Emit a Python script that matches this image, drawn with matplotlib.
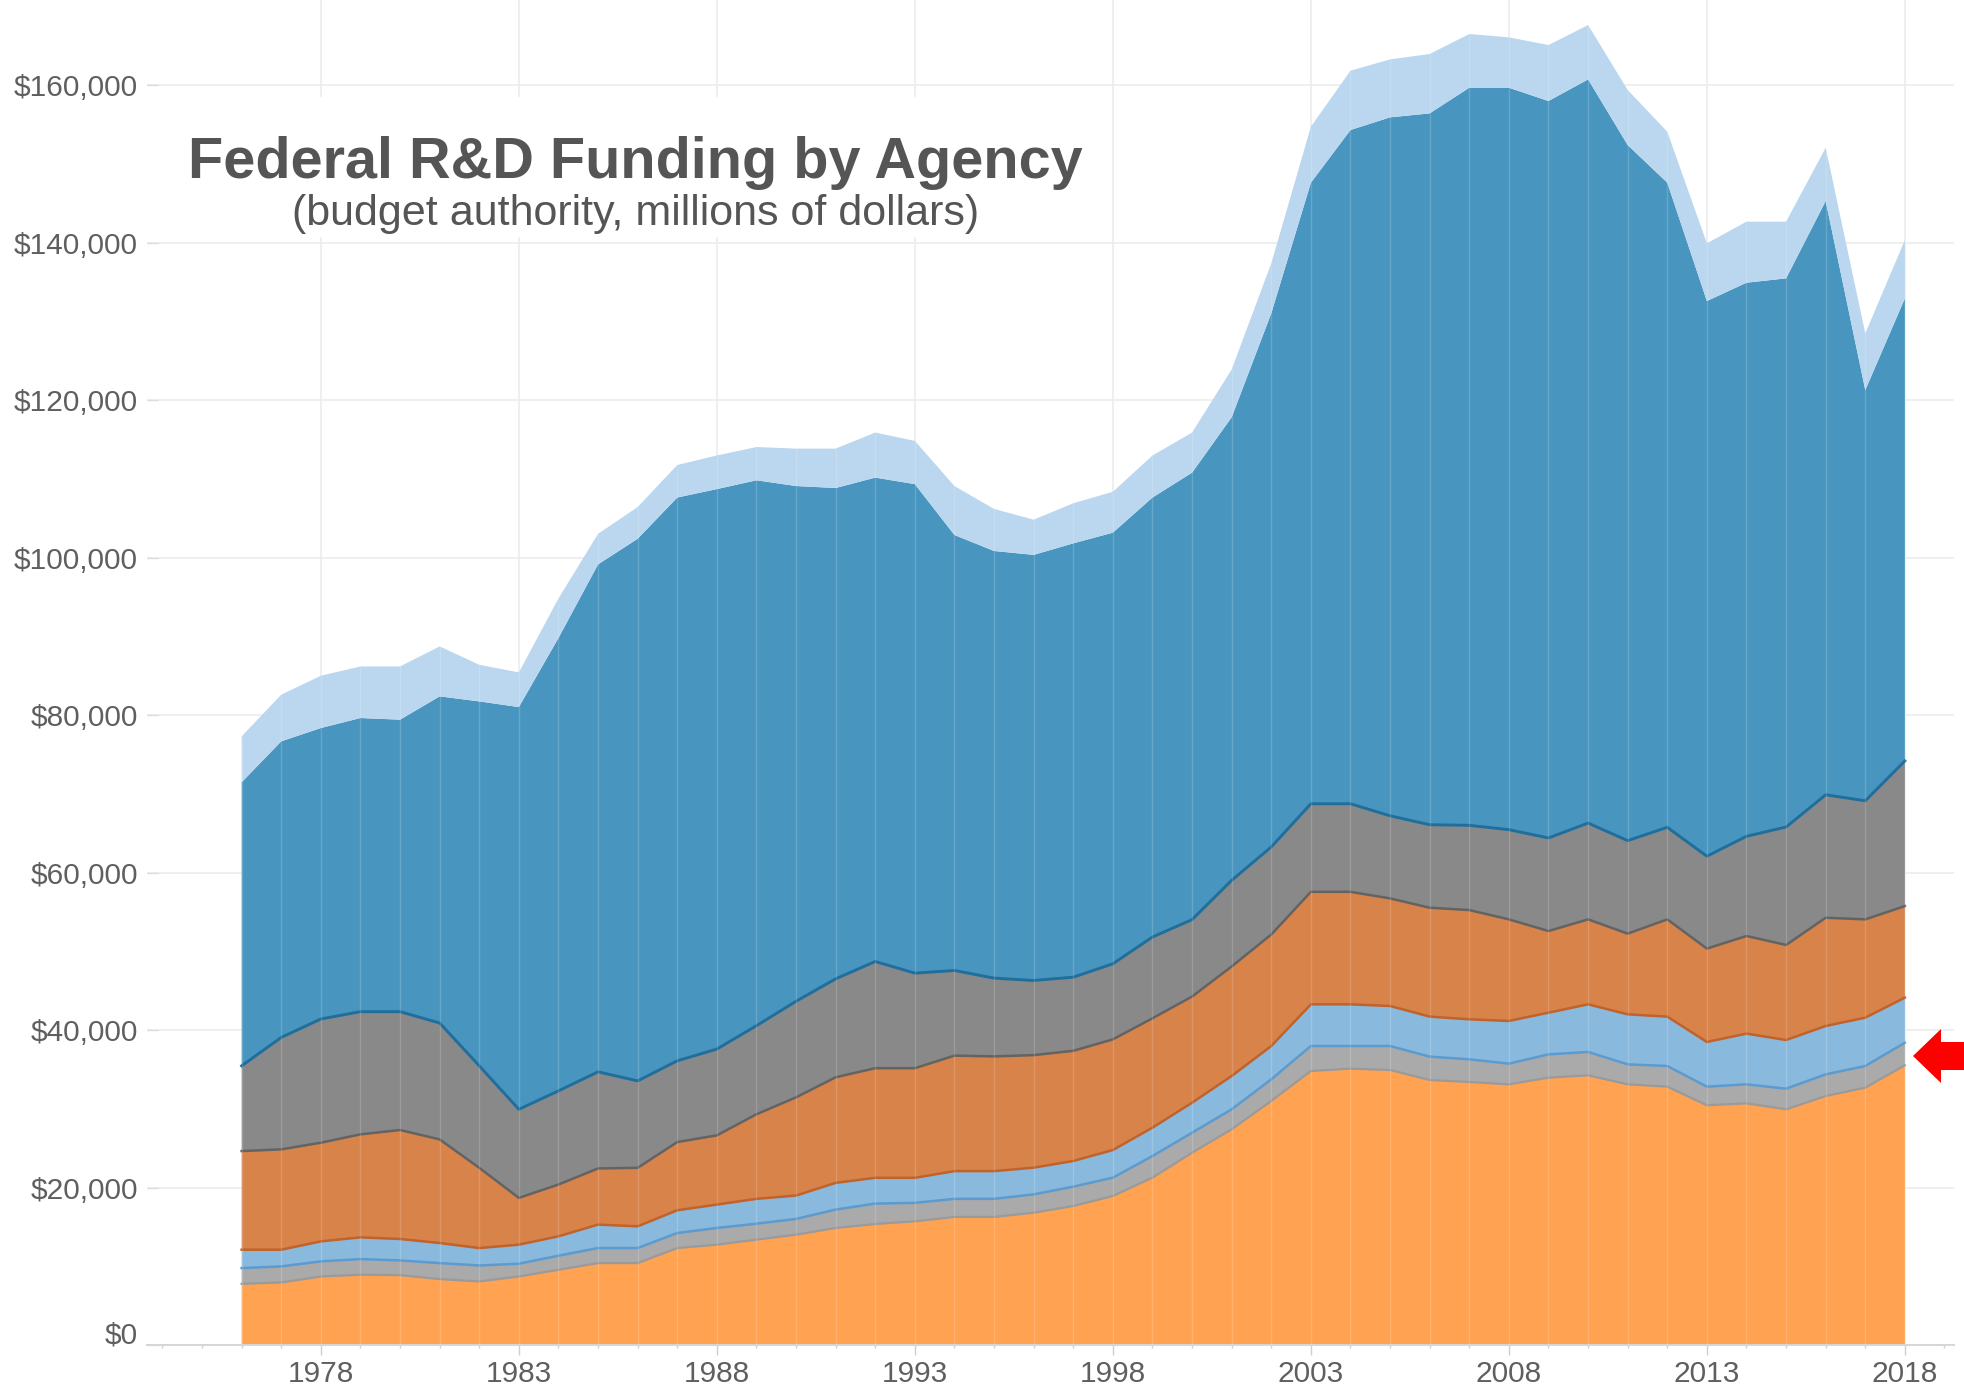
import matplotlib
matplotlib.use("Agg")
import matplotlib.pyplot as plt
import numpy as np
from matplotlib.patches import Rectangle, Polygon
from matplotlib.ticker import FuncFormatter, FixedLocator
import matplotlib.transforms as mtransforms

# ---------------- data (millions of dollars) ----------------
years = list(range(1976, 2019))

nih = [7770, 7940, 8700, 8920, 8870, 8370, 8070, 8700, 9550, 10400,
       10400, 12310, 12740, 13380, 14010, 14860, 15370, 15710, 16260, 16260,
       16800, 17650, 18920, 21250, 24420, 27390, 30990, 34800, 35090, 34920,
       33650, 33400, 33100, 33950, 34250, 33100, 32810, 30440, 30690, 29930,
       31620, 32680, 35520]
usda = [2000, 2040, 1920, 1990, 1870, 2030, 2030, 1620, 1790, 1910,
        1910, 1910, 2120, 2030, 2000, 2340, 2590, 2340, 2300, 2300,
        2330, 2460, 2330, 2750, 2540, 2540, 2750, 3170, 2880, 3050,
        2970, 2880, 2630, 2960, 2960, 2540, 2620, 2370, 2410, 2620,
        2750, 2750, 2870]
nsf = [2330, 2120, 2540, 2760, 2720, 2550, 2210, 2420, 2460, 2980,
       2760, 2890, 2970, 3150, 2970, 3390, 3270, 3180, 3520, 3520,
       3390, 3260, 3510, 3600, 3810, 4230, 4230, 5290, 5290, 5080,
       5080, 5080, 5420, 5290, 6050, 6350, 6270, 5670, 6440, 6180,
       6140, 6140, 5720]
nasa = [12530, 12740, 12530, 13080, 13840, 13160, 10190, 5940, 6580, 7130,
        7430, 8660, 8790, 10740, 12470, 13410, 13920, 13920, 14670, 14570,
        14290, 13990, 14050, 13890, 13480, 13910, 14160, 14290, 14290, 13660,
        13830, 13870, 12900, 10370, 10790, 10250, 12350, 11860, 12400, 12070,
        13750, 12480, 11630]
doe = [10820, 14220, 15710, 15580, 15030, 14780, 12950, 11250, 11890, 12270,
       11040, 10320, 10960, 11250, 12200, 12500, 13550, 12070, 10810, 9940,
       9480, 9350, 9600, 10320, 9770, 10940, 11120, 11180, 11180, 10490,
       10540, 10760, 11390, 11820, 12230, 11810, 11690, 11730, 12660, 14980,
       15610, 15060, 18430]
dod = [36010, 37600, 36950, 37290, 37080, 41480, 46280, 51080, 57510, 64440,
       68840, 71530, 71110, 69260, 65430, 62330, 61450, 62100, 55300, 54240,
       54050, 55090, 54750, 55810, 56760, 58800, 67760, 78870, 85560, 88700,
       90330, 93670, 94220, 93580, 94440, 88330, 81860, 70500, 70300, 69670,
       75400, 52160, 58740]
other = [5830, 5920, 6640, 6550, 6760, 6340, 4650, 4400, 5020, 3880,
         4030, 4130, 4270, 4220, 4750, 5000, 5720, 5490, 6220, 5340,
         4470, 5090, 5190, 5340, 5090, 6070, 6350, 7110, 7530, 7360,
         7540, 6820, 6400, 7110, 6900, 6990, 6480, 7330, 7750, 7200,
         6770, 7200, 7410]

title = "Federal R&D Funding by Agency"
subtitle = "(budget authority, millions of dollars)"
x_ticks = [1978, 1983, 1988, 1993, 1998, 2003, 2008, 2013, 2018]
y_ticks = [0, 20000, 40000, 60000, 80000, 100000, 120000, 140000, 160000]

# ---------------- styling ----------------
fills = ['#ffa352', '#aaaaaa', '#8ab9de', '#d8834a', '#898989', '#4896c0', '#bad7ef']
edges = [None, '#9a9a9a', '#5b9bd0', '#c0622a', '#636363', '#1f6e9c', None]
edge_w = [0, 1.6, 1.8, 1.8, 1.8, 2.1, 0]

W, H = 1964, 1393
fig = plt.figure(figsize=(W / 100, H / 100), dpi=100)
fig.patch.set_facecolor('white')
ax = fig.add_axes([147 / W, (H - 1345) / H, (1954 - 147) / W, 1345 / H])

series = [nih, usda, nsf, nasa, doe, dod, other]
ax.stackplot(years, series, colors=fills, linewidth=0, zorder=2)

cum = np.cumsum(np.array(series, dtype=float), axis=0)
for k in range(1, len(series)):
    if edges[k] is not None:
        ax.plot(years, cum[k - 1], color=edges[k], lw=edge_w[k], zorder=3,
                solid_joinstyle='round')

# faint year separators inside the areas
ax.vlines(years, 0, cum[-1], colors='white', alpha=0.16, lw=1.0, zorder=4)

ax.set_xlim(1973.61, 2019.24)
ax.set_ylim(0, 170800)

ax.xaxis.set_major_locator(FixedLocator(x_ticks))
ax.xaxis.set_minor_locator(FixedLocator(list(range(1974, 2020))))
ax.yaxis.set_major_locator(FixedLocator(y_ticks))
ax.yaxis.set_major_formatter(FuncFormatter(lambda v, p: '${:,.0f}'.format(v)))

ax.grid(True, which='major', color='#ececec', lw=1.2)
ax.set_axisbelow(True)
for s in ['top', 'right', 'left']:
    ax.spines[s].set_visible(False)
ax.spines['bottom'].set_color('#d6d6d6')
ax.spines['bottom'].set_linewidth(1.4)

ax.tick_params(axis='x', which='major', direction='out', length=7, width=1,
               color='#cfcfcf', labelsize=21.5, labelcolor='#5f5f5f', pad=4)
ax.tick_params(axis='x', which='minor', direction='out', length=2, width=1,
               color='#cfcfcf')
ax.tick_params(axis='y', which='major', direction='in', length=8, width=1,
               color='#dcdcdc', labelsize=21.5, labelcolor='#5f5f5f', pad=6.5)
for lab in ax.get_xticklabels() + ax.get_yticklabels():
    lab.set_family('Liberation Sans')

# lift the $0 label a little, as in the original
zero_lab = ax.yaxis.get_major_ticks()[0].label1
zero_lab.set_transform(zero_lab.get_transform() +
                       mtransforms.ScaledTranslation(0, 13 / 100, fig.dpi_scale_trans))

# white box behind the title
box = Rectangle((175 / W, 1 - 237 / H), (1095 - 175) / W, (237 - 97) / H,
                transform=fig.transFigure, facecolor='white', edgecolor='none',
                zorder=1, clip_on=False)
ax.add_patch(box)

fig.text(635.5 / W, 1 - 178 / H, title, ha='center', va='baseline',
         fontsize=41.5, fontweight='bold', color='#555555', family='Liberation Sans')
fig.text(635.5 / W, 1 - 225 / H, subtitle, ha='center', va='baseline',
         fontsize=31, color='#555555', family='Liberation Sans')

# red arrow at the right edge
arrow_px = [(1913, 1056), (1941, 1029), (1941, 1042), (1964, 1042),
            (1964, 1070), (1941, 1070), (1941, 1083)]
arrow = Polygon([(x / W, 1 - y / H) for x, y in arrow_px], closed=True,
                transform=fig.transFigure, facecolor='#ff0000', edgecolor='none')
fig.add_artist(arrow)

fig.savefig('out.png', dpi=100, facecolor='white')
